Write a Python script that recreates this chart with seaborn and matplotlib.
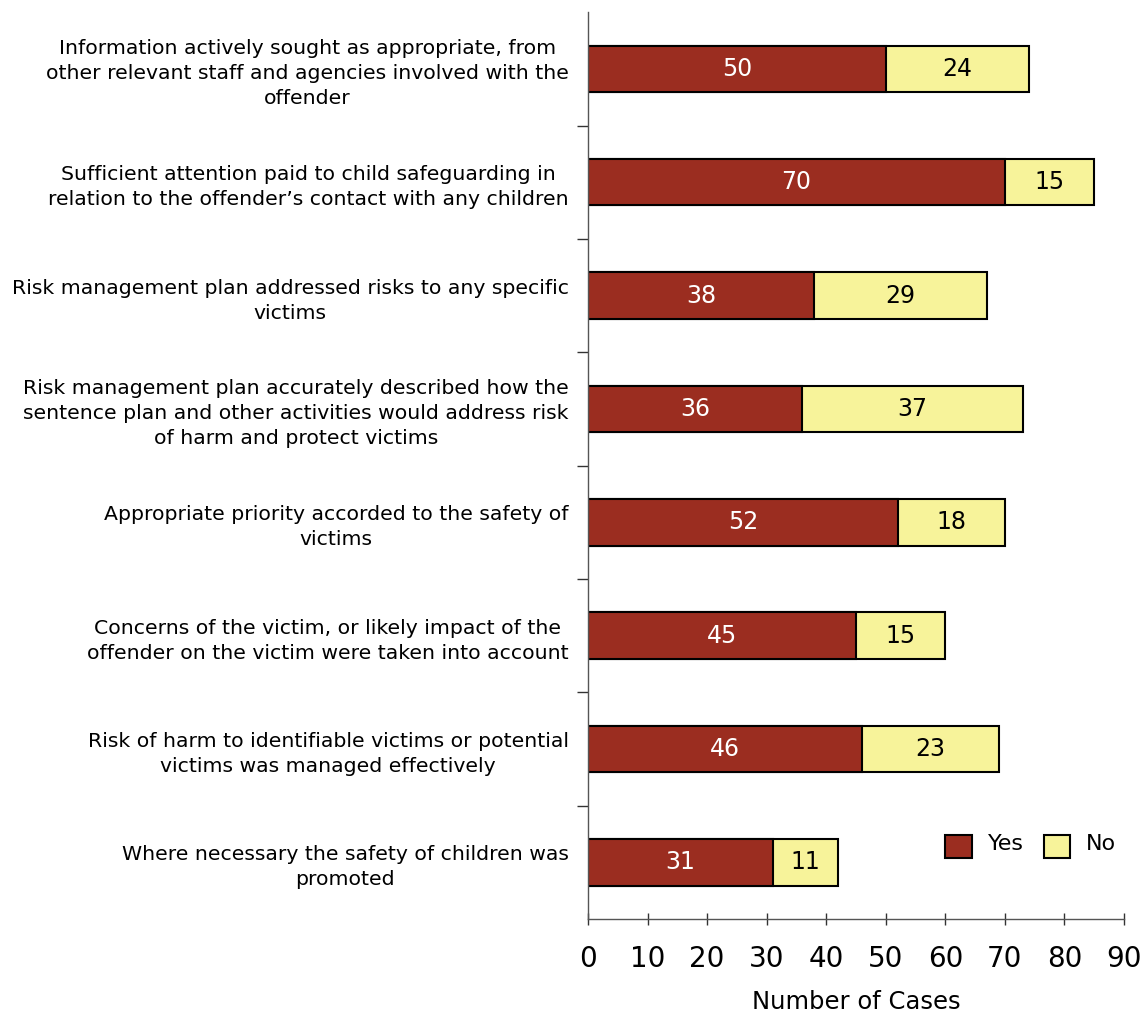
import matplotlib
matplotlib.use("Agg")
import matplotlib.pyplot as plt
from matplotlib.patches import Patch
from matplotlib.ticker import FixedLocator
import seaborn as sns
import pandas as pd

# Survey items and case counts
questions = [
    "Information actively sought as appropriate, from\nother relevant staff and agencies involved with the\noffender",
    "Sufficient attention paid to child safeguarding in\nrelation to the offender\u2019s contact with any children",
    "Risk management plan addressed risks to any specific\nvictims",
    "Risk management plan accurately described how the\nsentence plan and other activities would address risk\nof harm and protect victims",
    "Appropriate priority accorded to the safety of\nvictims",
    "Concerns of the victim, or likely impact of the\noffender on the victim were taken into account",
    "Risk of harm to identifiable victims or potential\nvictims was managed effectively",
    "Where necessary the safety of children was\npromoted",
]
yes_counts = [50, 70, 38, 36, 52, 45, 46, 31]
no_counts = [24, 15, 29, 37, 18, 15, 23, 11]
x_ticks = [0, 10, 20, 30, 40, 50, 60, 70, 80, 90]

YES_COLOR = "#9B2D20"
NO_COLOR = "#F7F39A"

df = pd.DataFrame({"question": questions, "yes": yes_counts, "no": no_counts})
df["total"] = df["yes"] + df["no"]

sns.set_theme(style="white")
plt.rcParams["font.family"] = ["DejaVu Sans"]
plt.rcParams["text.color"] = "black"
plt.rcParams["xtick.color"] = "black"
plt.rcParams["ytick.color"] = "black"
plt.rcParams["axes.labelcolor"] = "black"

fig = plt.figure(figsize=(11.44, 10.19), dpi=100)
ax = fig.add_axes([0.514, 0.0981, 0.4685, 0.8899])

# Stacked bars: full total in yellow, "Yes" part drawn over it in red
sns.barplot(data=df, x="total", y="question", orient="h", color=NO_COLOR,
            saturation=1, width=0.41, edgecolor="black", linewidth=1.5, ax=ax)
sns.barplot(data=df, x="yes", y="question", orient="h", color=YES_COLOR,
            saturation=1, width=0.41, edgecolor="black", linewidth=1.5, ax=ax)

# Value labels inside each segment
for i, (y, n) in enumerate(zip(yes_counts, no_counts)):
    ax.text(y / 2, i, str(y), ha="center", va="center", color="white", fontsize=17)
    ax.text(y + n / 2, i, str(n), ha="center", va="center", color="black", fontsize=17)

ax.set_xlim(0, 90)
ax.set_ylim(len(questions) - 0.5, -0.5)
ax.set_xticks(x_ticks)
ax.set_xticklabels([str(t) for t in x_ticks], fontsize=20)
ax.set_xlabel("Number of Cases", fontsize=17.5, labelpad=12)
ax.set_ylabel("")

ax.set_yticks(range(len(questions)))
ax.set_yticklabels(questions, fontsize=14.7, multialignment="center", linespacing=1.4)
ax.tick_params(axis="y", which="major", length=0, pad=14)
ax.yaxis.set_minor_locator(FixedLocator([i + 0.5 for i in range(len(questions) - 1)]))
ax.tick_params(axis="y", which="minor", length=8, width=1, color="#333333", direction="out", left=True)
ax.tick_params(axis="x", which="major", length=8, width=1, color="#333333", direction="inout",
               bottom=True, pad=15)

for side in ["top", "right"]:
    ax.spines[side].set_visible(False)
for side in ["left", "bottom"]:
    ax.spines[side].set_color("#555555")
    ax.spines[side].set_linewidth(1)

handles = [Patch(facecolor=YES_COLOR, edgecolor="black", linewidth=1.5, label="Yes"),
           Patch(facecolor=NO_COLOR, edgecolor="black", linewidth=1.5, label="No")]
leg = ax.legend(handles=handles, ncol=2, frameon=False, fontsize=16,
                loc="center", bbox_to_anchor=(0.826, 0.08),
                handlelength=1.2, handleheight=1.25, columnspacing=0.9, handletextpad=0.7)
for t in leg.get_texts():
    t.set_verticalalignment("bottom")

fig.savefig("out.png", dpi=100, facecolor="white")
